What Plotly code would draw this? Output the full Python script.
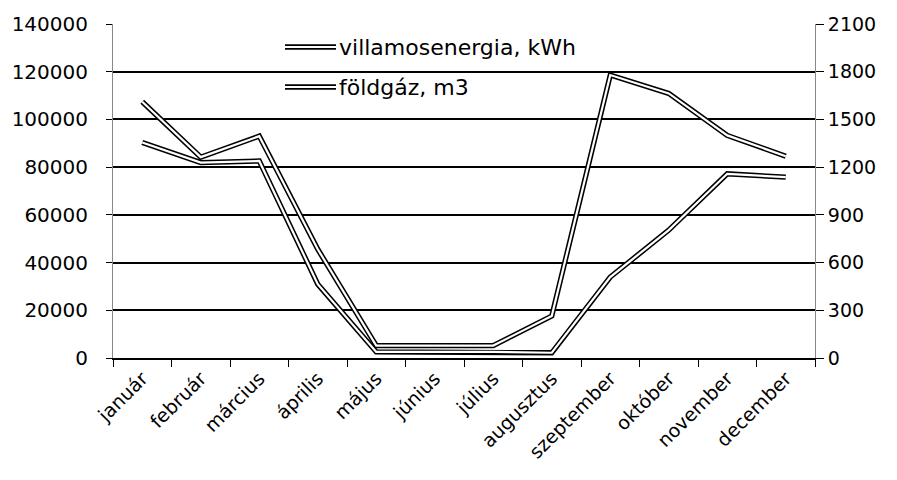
import plotly.graph_objects as go

months = ["január", "február", "március", "április", "május", "június",
          "július", "augusztus", "szeptember", "október", "november", "december"]
villamos_kwh = [107400, 84200, 93000, 45600, 5200, 5200, 5200, 17600,
                118600, 110900, 93300, 84600]
foldgaz_m3 = [1355, 1229, 1239, 464, 38, 38, 38, 33, 509, 804, 1158, 1137]
left_ticks = [0, 20000, 40000, 60000, 80000, 100000, 120000, 140000]
right_ticks = [0, 300, 600, 900, 1200, 1500, 1800, 2100]
legend_names = ["villamosenergia, kWh", "földgáz, m3"]

FONT = "DejaVu Sans"
OUT_W, IN_W = 5.3, 2.2

fig = go.Figure()
# double (outlined) lines: thick black under thin white
fig.add_trace(go.Scatter(x=months, y=villamos_kwh, mode="lines", yaxis="y",
                         line=dict(color="black", width=OUT_W), showlegend=False,
                         name=legend_names[0]))
fig.add_trace(go.Scatter(x=months, y=villamos_kwh, mode="lines", yaxis="y",
                         line=dict(color="white", width=IN_W), showlegend=False,
                         hoverinfo="skip"))
fig.add_trace(go.Scatter(x=months, y=foldgaz_m3, mode="lines", yaxis="y2",
                         line=dict(color="black", width=OUT_W), showlegend=False,
                         name=legend_names[1]))
fig.add_trace(go.Scatter(x=months, y=foldgaz_m3, mode="lines", yaxis="y2",
                         line=dict(color="white", width=IN_W), showlegend=False,
                         hoverinfo="skip"))

# page body has an 8px margin; figure coordinates are offset by it
OFF = 8
W, H = 881, 464
L, T = 113 - OFF, 24 - OFF
R = W - (815 - OFF)
B = H - (358 - OFF)
PW, PH = W - L - R, H - T - B


def px(x):
    return (x - OFF - L) / PW


def py(y):
    return (H - B - (y - OFF)) / PH


shapes = []
annotations = []
for name, yy in zip(legend_names, [47, 87]):
    for col, wid in (("black", OUT_W), ("white", IN_W)):
        shapes.append(dict(type="line", xref="paper", yref="paper",
                           x0=px(285), x1=px(336), y0=py(yy), y1=py(yy),
                           line=dict(color=col, width=wid), layer="above"))
    annotations.append(dict(text=name, xref="paper", yref="paper",
                            x=px(337), y=py(yy), xanchor="left", yanchor="middle",
                            showarrow=False, font=dict(family=FONT, size=22, color="black")))

fig.update_layout(
    width=W, height=H,
    margin=dict(l=L, r=R, t=T, b=B, autoexpand=False),
    paper_bgcolor="white", plot_bgcolor="white",
    font=dict(family=FONT, size=19, color="black"),
    showlegend=False,
    shapes=shapes, annotations=annotations,
    xaxis=dict(type="category", range=[-0.5, 11.5], tickangle=-45, automargin=False,
               tickson="boundaries", ticks="outside", ticklen=7, tickcolor="black",
               showline=True, linecolor="black", linewidth=2, showgrid=False,
               tickfont=dict(family=FONT, size=19)),
    yaxis=dict(range=[0, 140000], tickvals=left_ticks, ticktext=[str(v) for v in left_ticks],
               ticks="outside", ticklen=6, tickcolor="black", automargin=False,
               showline=True, linecolor="#888888", linewidth=1,
               showgrid=True, gridcolor="black", gridwidth=1.6, zeroline=False,
               ticklabelstandoff=14, tickfont=dict(family=FONT, size=20)),
    yaxis2=dict(range=[0, 2100], tickvals=right_ticks, ticktext=[str(v) for v in right_ticks],
                overlaying="y", side="right", ticks="outside", ticklen=8, tickcolor="black",
                showline=True, linecolor="#888888", linewidth=1, automargin=False,
                showgrid=False, zeroline=False,
                tickfont=dict(family=FONT, size=19)),
)

fig.write_html("out.html")
